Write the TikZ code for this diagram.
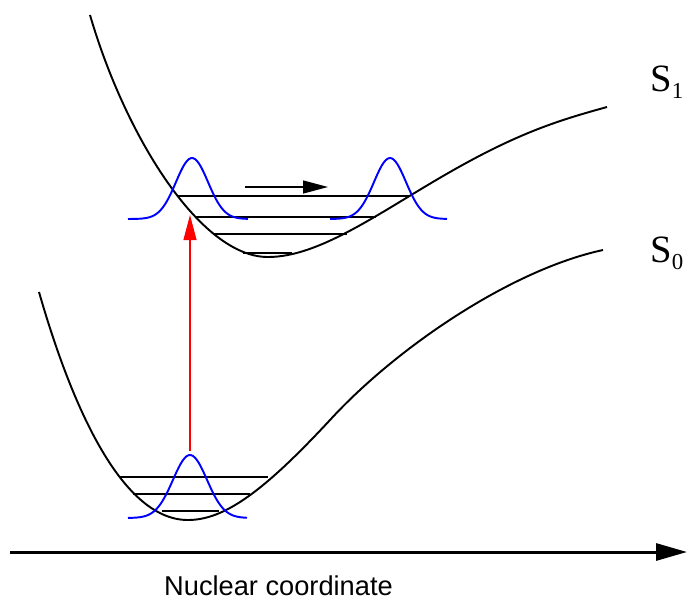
\documentclass[tikz,border=0pt]{standalone}
\usepackage{fontspec}
\setmainfont{Liberation Serif}
\setsansfont{Liberation Sans}
\usepackage{tikz}
\usetikzlibrary{positioning, arrows.meta}

\tikzset{
    courbe/.style={line width=1.1pt, black},
    niveau/.style={line width=0.6pt, black},
    onde/.style={line width=1.1pt, blue},
    etat/.style={anchor=base west, inner sep=0pt, font=\fontsize{22}{26}\selectfont},
}

\begin{document}
\begin{tikzpicture}[x=0.02cm, y=-0.02cm]
    \useasboundingbox (0,0) rectangle (691,600);

    % Courbes de potentiel
    \draw[courbe] (90,15) .. controls (125,135) and (200,257) .. (268,257)
        .. controls (320,257) and (380,212) .. (450,172)
        .. controls (520,132) and (560,120) .. (607,107);
    \draw[courbe] (39,292) .. controls (70,400) and (120,520) .. (188,520)
        .. controls (225,520) and (265,490) .. (330,420)
        .. controls (395,349) and (510,270) .. (603,250);

    % Niveaux vibrationnels
    \foreach \y/\a/\b in {196/177/410, 217/196/376, 234/214/347, 253/243/292}
        \draw[niveau] (\a,\y) -- (\b,\y);
    \foreach \y/\a/\b in {477/120/268, 494/133/250, 511/162/219}
        \draw[niveau] (\a,\y) -- (\b,\y);

    % Paquets d'onde
    \draw[onde] plot[domain=128:248, samples=60] (\x, {219-61*exp(-((\x-192)^2)/512)});
    \draw[onde] plot[domain=330:447, samples=60] (\x, {219-61*exp(-((\x-390)^2)/512)});
    \draw[onde] plot[domain=128:247, samples=60] (\x, {518-63*exp(-((\x-190)^2)/578)});

    % Etats
    \node[etat] (s1) at (650,91) {S\raisebox{-4.5pt}{\fontsize{13}{15}\selectfont 1}};
    \node[etat] (s0) at (650,262) {S\raisebox{-4.5pt}{\fontsize{13}{15}\selectfont 0}};

    % Fleches
    \coordinate (exc0) at (190,451);
    \coordinate (exc1) at (190,215);
    \coordinate (mv0) at (245,187);
    \coordinate (mv1) at (328,187);
    \draw[red, line width=0.6pt, -{Triangle[length=0.5cm, width=0.26cm]}] (exc0) -- (exc1);
    \draw[line width=0.8pt, -{Triangle[length=0.5cm, width=0.26cm]}] (mv0) -- (mv1);

    % Axe
    \coordinate (ax0) at (10,552);
    \coordinate (ax1) at (687,552);
    \draw[line width=1.7pt, -{Triangle[length=0.62cm, width=0.34cm]}] (ax0) -- (ax1);
    \node[anchor=base west, font=\sffamily\fontsize{15.5}{18}\selectfont] (nc) at (158,595) {Nuclear coordinate};
\end{tikzpicture}
\end{document}
